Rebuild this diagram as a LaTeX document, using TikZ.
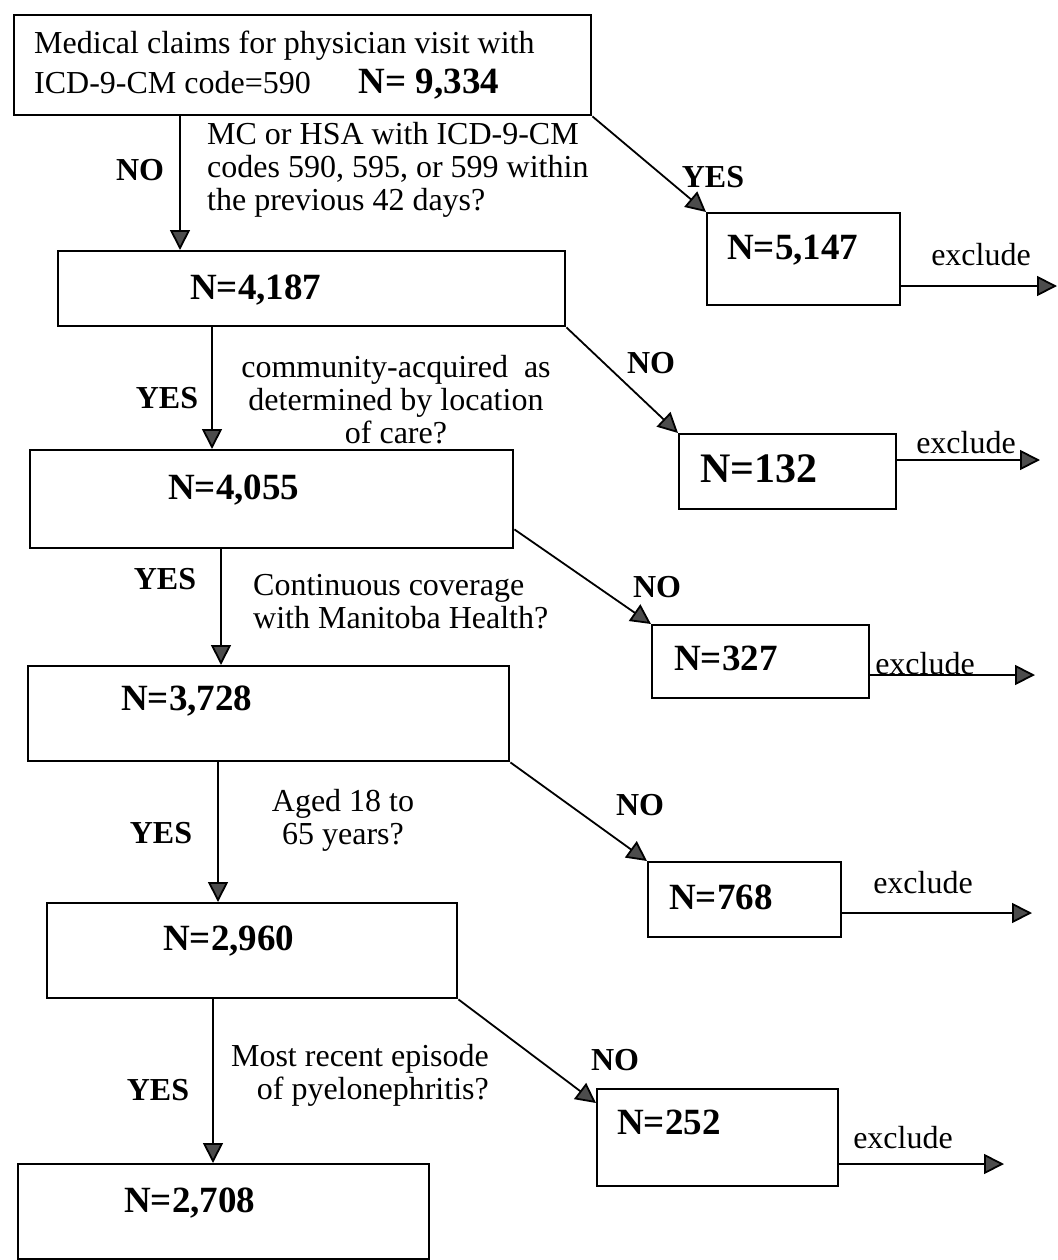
\documentclass[tikz,border=0pt]{standalone}
\usepackage{fontspec}
\setmainfont{Liberation Serif}
\usetikzlibrary{arrows.meta}
\tikzset{
  box/.style={draw, line width=2.4pt, anchor=north west, inner sep=0pt},
  flow/.style={line width=1.8pt, -{Triangle[length=20pt,width=20pt,fill=black!70]}},
  ask/.style={font=\fontsize{32}{33}\selectfont, inner sep=0pt},
  yesno/.style={font=\fontsize{32}{33}\selectfont\bfseries, inner sep=0pt},
  count/.style={font=\fontsize{37}{40}\selectfont\bfseries, inner sep=0pt, anchor=base west},
  drop/.style={font=\fontsize{32}{33}\selectfont, inner sep=0pt},
}
\newcommand{\countbox}[5]{%
  \node[box, minimum width=#4pt, minimum height=#5pt] (#1) at (#2,#3) {};}

\begin{document}
\begin{tikzpicture}[x=1pt, y=-1pt]
\useasboundingbox (0,0) rectangle (1057,1260);

  % boxes
  \node[box, text width=537pt, inner xsep=20pt, minimum height=100pt,
        align=flush left, font=\fontsize{32}{40}\selectfont] (claims) at (13,14)
    {Medical claims for physician visit with\\
     ICD-9-CM code=590\hspace{48pt}{\fontsize{37}{40}\selectfont\bfseries N= 9,334}};
  \countbox{b5147}{706}{212}{193}{92}
  \countbox{b4187}{57}{250}{507}{75}
  \countbox{b132}{678}{433}{217}{75}
  \countbox{b4055}{29}{449}{483}{98}
  \countbox{b327}{651}{624}{217}{73}
  \countbox{b3728}{27}{665}{481}{95}
  \countbox{b768}{647}{861}{193}{75}
  \countbox{b2960}{46}{902}{410}{95}
  \countbox{b252}{596}{1088}{241}{97}
  \countbox{b2708}{17}{1163}{411}{95}

  % counts
  \node[count] (n5147) at (727,259) {N=5,147};
  \node[count] (n4187) at (190,299) {N=4,187};
  \node[count, font=\fontsize{42}{44}\selectfont\bfseries] (n132) at (700,482) {N=132};
  \node[count] (n4055) at (168,499) {N=4,055};
  \node[count] (n327) at (674,670) {N=327};
  \node[count] (n3728) at (121,710) {N=3,728};
  \node[count] (n768) at (669,909) {N=768};
  \node[count] (n2960) at (163,950) {N=2,960};
  \node[count] (n252) at (617,1134) {N=252};
  \node[count] (n2708) at (124,1212) {N=2,708};

  % questions
  \node[ask, anchor=west, align=left] (q1) at (207,170)
    {MC or HSA with ICD-9-CM\\codes 590, 595, or 599 within\\the previous 42 days?};
  \node[ask, align=center] (q2) at (396,400)
    {community-acquired\ \ as\\determined by location\\of care?};
  \node[ask, anchor=west, align=left] (q3) at (253,602)
    {Continuous coverage\\with Manitoba Health?};
  \node[ask, align=center] (q4) at (343,820) {Aged 18 to\\65 years?};
  \node[ask, anchor=east, align=right] (q5) at (489,1075)
    {Most recent episode\\of pyelonephritis?};

  % yes / no
  \node[yesno] (no1) at (140,170) {NO};
  \node[yesno] (yes1) at (713,177) {YES};
  \node[yesno] (yes2) at (167,398) {YES};
  \node[yesno] (no2) at (651,363) {NO};
  \node[yesno] (yes3) at (165,579) {YES};
  \node[yesno] (no3) at (657,587) {NO};
  \node[yesno] (yes4) at (161,833) {YES};
  \node[yesno] (no4) at (640,805) {NO};
  \node[yesno] (yes5) at (158,1090) {YES};
  \node[yesno] (no5) at (615,1060) {NO};

  % exclude
  \node[drop] (ex1) at (981,255) {exclude};
  \node[drop] (ex2) at (966,443) {exclude};
  \node[drop] (ex3) at (925,664) {exclude};
  \node[drop] (ex4) at (923,883) {exclude};
  \node[drop] (ex5) at (903,1138) {exclude};
  \coordinate (out1) at (1057,286);
  \coordinate (out2) at (1040,460);
  \coordinate (out3) at (1035,675);
  \coordinate (out4) at (1032,913);
  \coordinate (out5) at (1004,1164);

  % arrows
  \draw[flow] (claims.south -| 180,0) -- (b4187.north -| 180,0);
  \draw[flow] (claims.south east) -- (b5147.north west);
  \draw[flow] (b4187.south -| 212,0) -- (b4055.north -| 212,0);
  \draw[flow] (b4187.south east) -- (b132.north west);
  \draw[flow] (b4055.south -| 221,0) -- (b3728.north -| 221,0);
  \draw[flow] ([yshift=20pt]b4055.south east) -- (b327.north west);
  \draw[flow] (b3728.south -| 218,0) -- (b2960.north -| 218,0);
  \draw[flow] (b3728.south east) -- (b768.north west);
  \draw[flow] (b2960.south -| 213,0) -- (b2708.north -| 213,0);
  \draw[flow] (b2960.south east) -- ([yshift=-15pt]b252.north west);
  \foreach \b/\o in {b5147/out1, b132/out2, b327/out3, b768/out4, b252/out5}
    \draw[flow] (\b.east |- \o) -- (\o);

\end{tikzpicture}
\end{document}
